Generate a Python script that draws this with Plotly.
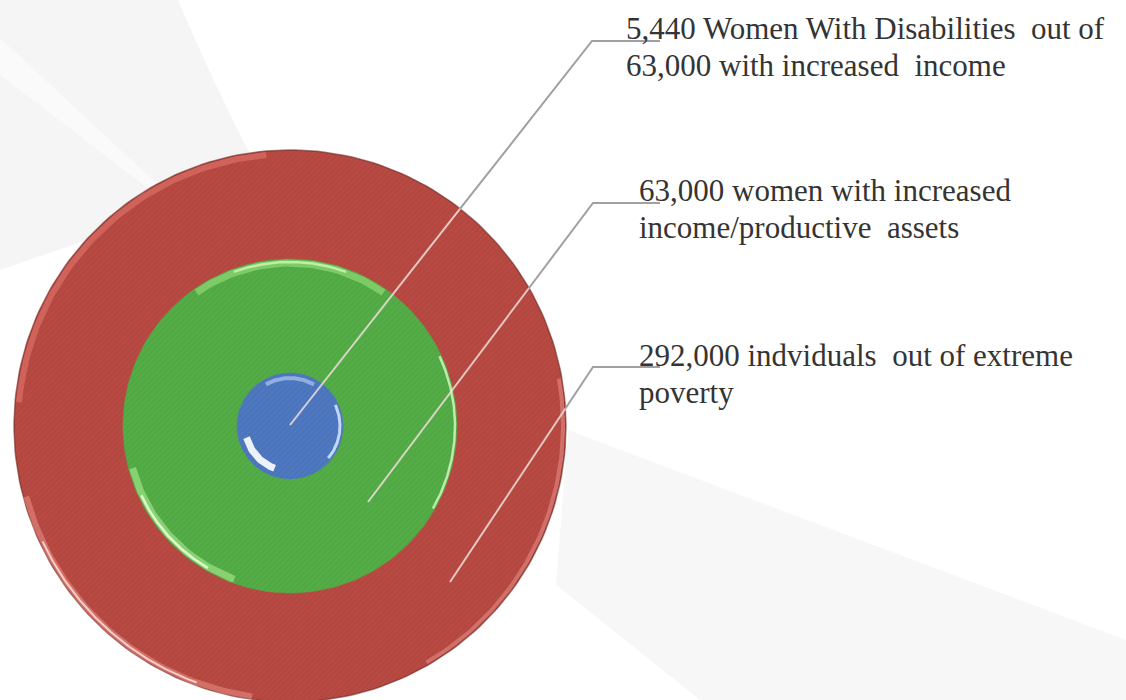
import numpy as np
import plotly.graph_objects as go

# ---- data -------------------------------------------------------------
group_counts = [5440, 63000, 292000]          # blue, green, red (inner -> outer)
group_phrases = [
    "{0:,} Women With Disabilities\u00a0 out of<br>{1:,} with increased\u00a0 income",
    "{0:,} women with increased<br>income/productive\u00a0 assets",
    "{0:,} indviduals\u00a0 out of extreme<br>poverty",
]
label_texts = [
    group_phrases[0].format(group_counts[0], group_counts[1]),
    group_phrases[1].format(group_counts[1]),
    group_phrases[2].format(group_counts[2]),
]

# ---- layout constants ---------------------------------------------------
W, H = 1126, 700
CX, CY = 290, 426
ring_radius = [53, 167, 276]
ring_fill = ["#4E78C0", "#55AD47", "#B84A43"]
ring_stripe = ["#3C62A6", "#3F9434", "#9E3A34"]

leader_anchor = [(290, 425), (368, 502), (450, 582)]
leader_bend = [(592, 41), (593, 203), (593, 367)]
leader_end_x = 660
label_x = [624, 637, 637]
label_line_y = [(28, 65), (190, 227), (355, 392)]
LABEL_SIZE = 31


def arc(r, a0=0.0, a1=360.0, n=240):
    t = np.radians(np.linspace(a0, a1, n))
    return CX + r * np.cos(t), CY - r * np.sin(t)


fig = go.Figure()

# rings, largest first so the smaller ones sit on top
for i in (2, 1, 0):
    x, y = arc(ring_radius[i])
    fig.add_trace(go.Scatter(
        x=x, y=y, mode="lines", fill="toself",
        fillcolor=ring_fill[i],
        fillpattern=dict(shape="/", size=4, solidity=0.35,
                         fgcolor=ring_stripe[i], fgopacity=0.3,
                         bgcolor=ring_fill[i]),
        line=dict(color="rgba(110,40,35,0.6)" if i == 2 else ring_fill[i],
                  width=1.5 if i == 2 else 0.5),
        hoverinfo="skip", showlegend=False,
    ))

# bevel highlights on the rims (soft wide glow + thin bright core)
highlights = [
    # (ring, r offset, a0, a1, colour, width)
    (2, -4, 95, 175, "rgba(240,130,120,0.45)", 6),
    (2, -3, 195, 262, "rgba(240,150,140,0.5)", 6),
    (2, -3, 205, 250, "rgba(255,230,225,0.8)", 2),
    (2, -3, 300, 370, "rgba(250,170,165,0.4)", 4),
    (1, -4, 55, 125, "rgba(160,230,130,0.55)", 7),
    (1, -3, 70, 110, "rgba(215,255,195,0.7)", 2.5),
    (1, -4, 195, 250, "rgba(170,235,145,0.6)", 7),
    (1, -3, 205, 240, "rgba(235,255,220,0.85)", 2.5),
    (1, -2, 330, 385, "rgba(225,255,210,0.75)", 2.5),
    (0, -5, 60, 120, "rgba(200,220,255,0.55)", 4),
    (0, -8, 195, 250, "rgba(255,255,255,0.9)", 7),
    (0, -3, 320, 385, "rgba(215,232,255,0.85)", 3),
]
for ring, dr, a0, a1, col, w in highlights:
    x, y = arc(ring_radius[ring] + dr, a0, a1, 80)
    fig.add_trace(go.Scatter(x=x, y=y, mode="lines",
                             line=dict(color=col, width=w),
                             hoverinfo="skip", showlegend=False))

# leader lines: pale where they cross the discs, grey outside
R = ring_radius[2]
for (ax_, ay_), (bx, by) in zip(leader_anchor, leader_bend):
    dx, dy = bx - ax_, by - ay_
    fx, fy = ax_ - CX, ay_ - CY
    a = dx * dx + dy * dy
    b = 2 * (fx * dx + fy * dy)
    c = fx * fx + fy * fy - R * R
    t = (-b + np.sqrt(b * b - 4 * a * c)) / (2 * a)
    ix, iy = ax_ + t * dx, ay_ + t * dy
    fig.add_trace(go.Scatter(x=[ix, bx, leader_end_x], y=[iy, by, by],
                             mode="lines",
                             line=dict(color="#a0a0a0", width=2),
                             hoverinfo="skip", showlegend=False))
    fig.add_trace(go.Scatter(x=[ax_, ix], y=[ay_, iy], mode="lines",
                             line=dict(color="rgba(238,222,220,0.85)", width=2),
                             hoverinfo="skip", showlegend=False))

# labels, one annotation per text line for exact line spacing
for txt, x, ys in zip(label_texts, label_x, label_line_y):
    for line_txt, y in zip(txt.split("<br>"), ys):
        fig.add_annotation(x=x, y=y, xref="x", yref="y", text=line_txt,
                           showarrow=False, xanchor="left", yanchor="middle",
                           align="left",
                           font=dict(family="Liberation Serif", size=LABEL_SIZE,
                                     color="#343434"))

# soft grey swooshes in the background
bg_shapes = [
    dict(path="M 0,0 L 178,0 Q 212,80 252,158 L 160,215 L 0,270 Z",
         fillcolor="rgba(0,0,0,0.04)"),
    dict(path="M 0,38 L 155,182 L 170,205 L 0,75 Z",
         fillcolor="rgba(255,255,255,0.5)"),
    dict(path="M 568,430 L 1126,640 L 1126,700 L 700,700 L 556,585 Z",
         fillcolor="rgba(0,0,0,0.03)"),
    dict(path="M 560,590 L 700,700 L 610,700 Z",
         fillcolor="rgba(255,255,255,0.6)"),
]
for s in bg_shapes:
    fig.add_shape(type="path", path=s["path"], xref="x", yref="y",
                  fillcolor=s["fillcolor"], line=dict(width=0), layer="below")

fig.update_layout(
    width=W, height=H,
    margin=dict(l=0, r=0, t=0, b=0),
    paper_bgcolor="white", plot_bgcolor="white",
    showlegend=False,
    xaxis=dict(range=[0, W], visible=False, fixedrange=True),
    yaxis=dict(range=[H, 0], visible=False, fixedrange=True),
)

fig.write_html("out.html", config={"displayModeBar": False})
